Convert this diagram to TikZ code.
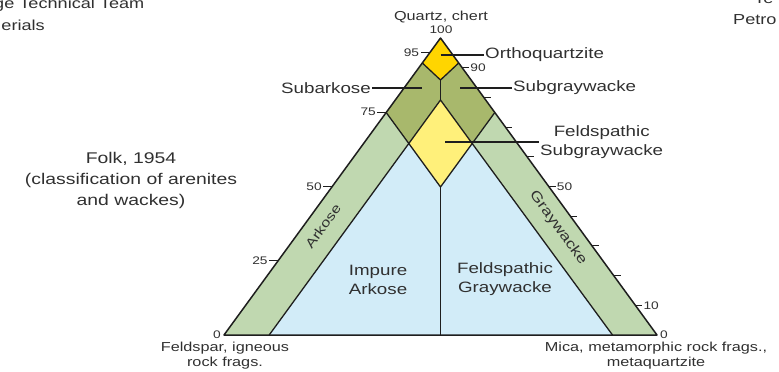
\documentclass[tikz,border=0pt]{standalone}
\usepackage{fontspec}
\setmainfont{Liberation Sans}[FakeStretch=1.25]
\definecolor{ink}{HTML}{1E1E1E}
\definecolor{txt}{HTML}{303030}
\definecolor{orthofill}{HTML}{FFD500}
\definecolor{olivefill}{HTML}{A8B86C}
\definecolor{bandfill}{HTML}{C0D8B0}
\definecolor{fsfill}{HTML}{FFF07A}
\definecolor{bluefill}{HTML}{D2ECF8}
\begin{document}
\begin{tikzpicture}[x=1pt,y=-1pt,
  lab/.style={font=\fontsize{15}{19}\selectfont, text=txt, inner sep=1pt, align=center},
  small/.style={font=\fontsize{13}{15}\selectfont, text=txt, inner sep=0pt, align=center},
  num/.style={font=\fontsize{11}{12}\selectfont, text=txt, inner sep=1pt},
  outline/.style={draw=ink, line width=1.3pt, line join=round},
  leader/.style={draw=ink, line width=1.1pt},
  tickmark/.style={draw=ink, line width=1.1pt}]
\useasboundingbox (0,0) rectangle (779,372);

% corner points of the triangle and of the field boundaries
\coordinate (A) at (440.5,38);
\coordinate (L) at (224,335);
\coordinate (R) at (657,335);
\coordinate (oL) at (422.3,63);
\coordinate (oR) at (458.7,63);
\coordinate (oB) at (440.5,80);
\coordinate (dT) at (440.5,100);
\coordinate (dL) at (408.8,143.5);
\coordinate (dR) at (472.2,143.5);
\coordinate (dB) at (440.5,187);
\coordinate (sL) at (386.2,112.5);
\coordinate (sR) at (494.8,112.5);
\coordinate (bL) at (269.2,335);
\coordinate (bR) at (612.5,335);
\coordinate (bM) at (440.5,335);

% fields
\fill[bluefill] (dL) -- (dB) -- (dR) -- (bR) -- (bL) -- cycle;
\fill[bandfill] (sL) -- (dL) -- (bL) -- (L) -- cycle;
\fill[bandfill] (sR) -- (dR) -- (bR) -- (R) -- cycle;
\fill[olivefill] (oL) -- (oB) -- (dT) -- (dL) -- (sL) -- cycle;
\fill[olivefill] (oR) -- (oB) -- (dT) -- (dR) -- (sR) -- cycle;
\fill[orthofill] (A) -- (oL) -- (oB) -- (oR) -- cycle;
\fill[fsfill] (dT) -- (dL) -- (dB) -- (dR) -- cycle;

% boundaries
\draw[outline] (oL) -- (oB) -- (oR);
\draw[outline] (oB) -- (dT);
\draw[outline] (sL) -- (dL) -- (dT) -- (dR) -- (sR);
\draw[outline] (bL) -- (dL) -- (dB) -- (dR) -- (bR);
\draw[outline] (dB) -- (bM);
\draw[outline, line width=1.5pt] (A) -- (L) -- (R) -- cycle;

% scale ticks on the left side
\foreach \q in {95,75,50,25} {
  \pgfmathsetmacro\yy{335-2.97*\q}
  \pgfmathsetmacro\xx{440.5-0.729*(\yy-38)}
  \draw[tickmark] (\xx,\yy) -- ++(-9,0) node[num, anchor=east] (lq\q) {\q};
}
% scale ticks on the right side
\foreach \q in {90,80,...,10} {
  \pgfmathsetmacro\yy{335-2.97*\q}
  \pgfmathsetmacro\xx{440.5+0.729*(\yy-38)}
  \draw[tickmark] (\xx,\yy) -- ++(7,0) coordinate (rq\q);
}
\foreach \q in {90,50,10} {
  \node[num, anchor=west] (rl\q) at (rq\q) {\q};
}
\node[num, anchor=east] (zl) at (222,335) {0};
\node[num, anchor=west] (zr) at (659,335) {0};
\node[num] (top) at (441,30) {100};

% pole names
\node[small] (qpole) at (441,17) {Quartz, chert};
\node[small] (fpole) at (225,355.5) {Feldspar, igneous\\rock frags.};
\node[small] (rpole) at (656,355.5) {Mica, metamorphic rock frags.,\\metaquartzite};

% field names with leaders
\coordinate (oqP) at (440.5,55);
\node[lab, anchor=west] (oq) at (484,55) {Orthoquartzite};
\draw[leader] (oqP) -- (oq.west);

\coordinate (saP) at (422,88);
\node[lab, anchor=east] (sa) at (372,88) {Subarkose};
\draw[leader] (sa.east) -- (saP);

\coordinate (sgP) at (460,88);
\node[lab, anchor=west] (sg) at (512,88) {Subgraywacke};
\draw[leader] (sgP) -- (sg.west);

\coordinate (fsP) at (445,142);
\node[lab, anchor=west] (fs) at (539,142) {Feldspathic\\Subgraywacke};
\draw[leader] (fsP) -- (fs.west);

\node[lab] (ia) at (378,279.5) {Impure\\Arkose};
\node[lab] (fg) at (505,279.5) {Feldspathic\\Graywacke};

\node[small, rotate=54] (ark) at (323,226) {Arkose};
\node[small, font=\fontsize{14}{15}\selectfont, rotate=-54] (gw) at (558,228) {Graywacke};

% caption
\node[lab, font=\fontsize{15.5}{21}\selectfont] (folk) at (131,180)
  {Folk, 1954\\(classification of arenites\\and wackes)};

% running heads of the neighbouring panels
\node[lab, font=\fontsize{14.5}{18}\selectfont, anchor=base west, inner sep=0pt] (tl1) at (-6,9) {ge Technical Team};
\node[lab, font=\fontsize{14.5}{18}\selectfont, anchor=base east, inner sep=0pt] (tl2) at (45,30) {erials};
\node[lab, font=\fontsize{14.5}{18}\selectfont, anchor=base west, inner sep=0pt] (tr1) at (754,4) {Te};
\node[lab, font=\fontsize{14.5}{18}\selectfont, anchor=base west, inner sep=0pt] (tr2) at (733,24) {Petro};
\end{tikzpicture}
\end{document}
